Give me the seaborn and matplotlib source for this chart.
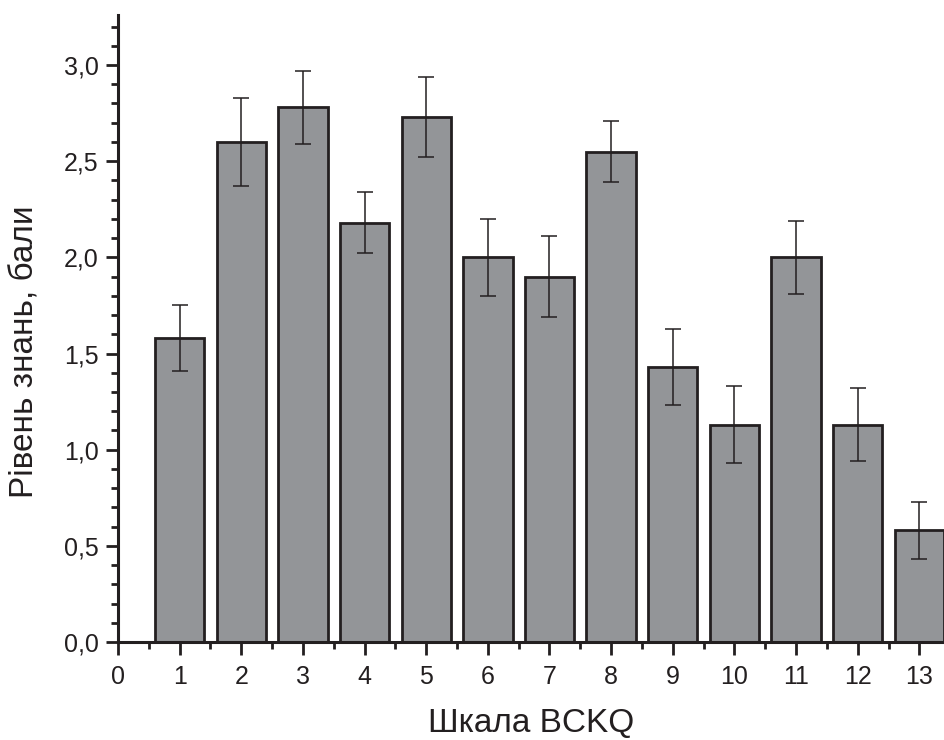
import numpy as np
import pandas as pd
import matplotlib
matplotlib.use("Agg")
import matplotlib.pyplot as plt
from matplotlib.ticker import MultipleLocator, FuncFormatter
import seaborn as sns

# data
scales = [1, 2, 3, 4, 5, 6, 7, 8, 9, 10, 11, 12, 13]
means = [1.58, 2.60, 2.78, 2.18, 2.73, 2.00, 1.90, 2.55, 1.43, 1.13, 2.00, 1.13, 0.58]
errs = [0.17, 0.23, 0.19, 0.16, 0.21, 0.20, 0.21, 0.16, 0.20, 0.20, 0.19, 0.19, 0.15]

x_label = "Шкала BCKQ"
y_label = "Рівень знань, бали"

sns.set_style("ticks")
plt.rcParams['font.family'] = ['Liberation Sans', 'DejaVu Sans']
text_col = '#231f20'

df = pd.DataFrame({"scale": scales, "mean": means, "err": errs})

fig = plt.figure(figsize=(9.44, 7.4), dpi=100)
ax = fig.add_axes([118 / 944, 98 / 740, 826 / 944, 627 / 740])

sns.barplot(data=df, x="scale", y="mean", native_scale=True, width=0.8,
            color='#939598', saturation=1, edgecolor=text_col, linewidth=2,
            errorbar=None, ax=ax)
ax.errorbar(df["scale"], df["mean"], yerr=df["err"], fmt='none',
            ecolor=text_col, elinewidth=1.1, capsize=6, capthick=1.1)

ax.set_xlim(0, 13.4)
ax.set_ylim(0, 3.26)

ax.xaxis.set_major_locator(MultipleLocator(1))
ax.xaxis.set_minor_locator(MultipleLocator(0.5))
ax.yaxis.set_major_locator(MultipleLocator(0.5))
ax.yaxis.set_minor_locator(MultipleLocator(0.1))
ax.yaxis.set_major_formatter(FuncFormatter(lambda v, p: f"{v:.1f}".replace('.', ',')))
ax.xaxis.set_major_formatter(FuncFormatter(lambda v, p: f"{int(round(v))}"))

ax.tick_params(which='major', direction='out', length=9, width=2,
               labelsize=18, colors=text_col, pad=5)
ax.tick_params(axis='x', which='major', pad=7.5)
ax.tick_params(which='minor', direction='out', length=5, width=2, colors=text_col)

for side in ['top', 'right']:
    ax.spines[side].set_visible(False)
for side in ['left', 'bottom']:
    ax.spines[side].set_linewidth(2.2)
    ax.spines[side].set_color(text_col)

ax.set_xlabel(x_label, fontsize=24, color=text_col, labelpad=14)
ax.set_ylabel(y_label, fontsize=24, color=text_col)
ax.yaxis.set_label_coords(-0.094, 0.4625)

fig.savefig("out.png", dpi=100)
